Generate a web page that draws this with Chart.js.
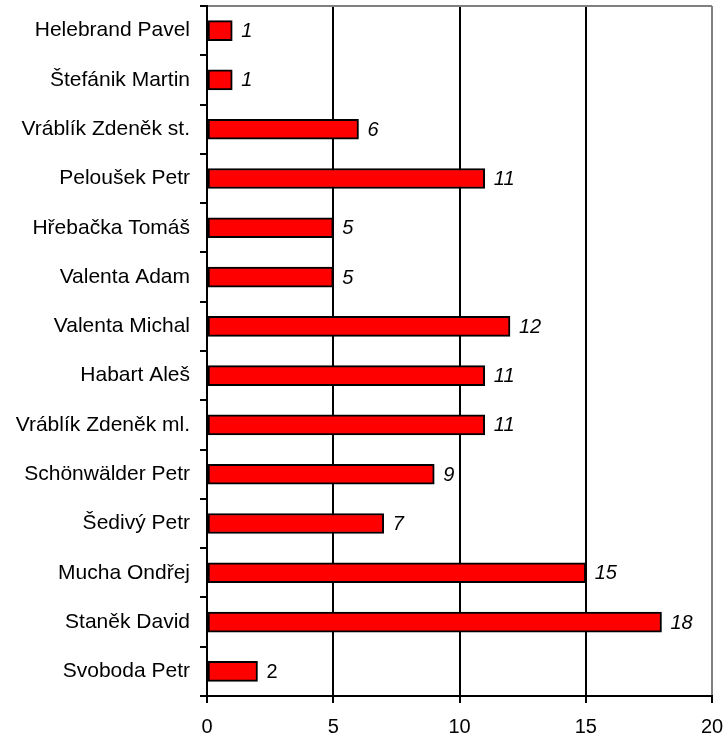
<!DOCTYPE html>
<html>
<head>
<meta charset="utf-8">
<script src="https://cdn.jsdelivr.net/npm/chart.js@4"></script>
<style>
  html, body { margin: 0; padding: 0; background: #ffffff; }
  #wrap { width: 727px; height: 738px; position: relative; }
</style>
</head>
<body>
<div id="wrap"><canvas id="c"></canvas></div>
<script>
const categories = [
  "Helebrand Pavel",
  "Štefánik Martin",
  "Vráblík Zdeněk st.",
  "Peloušek Petr",
  "Hřebačka Tomáš",
  "Valenta Adam",
  "Valenta Michal",
  "Habart Aleš",
  "Vráblík Zdeněk ml.",
  "Schönwälder Petr",
  "Šedivý Petr",
  "Mucha Ondřej",
  "Staněk David",
  "Svoboda Petr"
];
const values = [1, 1, 6, 11, 5, 5, 12, 11, 11, 9, 7, 15, 18, 2];
const xTicks = [0, 5, 10, 15, 20];

const FONT = "'Liberation Sans', Arial, Helvetica, sans-serif";

const valueLabels = {
  id: 'valueLabels',
  afterDatasetsDraw(chart) {
    const ctx = chart.ctx;
    const meta = chart.getDatasetMeta(0);
    ctx.save();
    ctx.fillStyle = '#000000';
    ctx.textBaseline = 'middle';
    ctx.textAlign = 'left';
    meta.data.forEach((bar, i) => {
      const italic = i !== meta.data.length - 1;
      ctx.font = (italic ? 'italic ' : '') + '20px ' + FONT;
      ctx.fillText(String(values[i]), bar.x + 9, bar.y + 1);
    });
    ctx.restore();
  }
};

const plotFrame = {
  id: 'plotFrame',
  afterDraw(chart) {
    const a = chart.chartArea;
    const ctx = chart.ctx;
    ctx.save();
    ctx.strokeStyle = '#808080';
    ctx.lineWidth = 2;
    ctx.beginPath();
    ctx.moveTo(a.left + 1, a.top);
    ctx.lineTo(a.right, a.top);
    ctx.stroke();
    ctx.strokeStyle = '#000000';
    ctx.beginPath();
    ctx.moveTo(a.left - 7, a.top);
    ctx.lineTo(a.left + 1, a.top);
    ctx.moveTo(a.left - 7, a.bottom);
    ctx.lineTo(a.left + 1, a.bottom);
    ctx.stroke();
    ctx.restore();
  }
};

new Chart(document.getElementById('c'), {
  type: 'bar',
  data: {
    labels: categories,
    datasets: [{
      data: values,
      backgroundColor: '#ff0000',
      borderColor: '#000000',
      borderWidth: 2,
      borderSkipped: false,
      barThickness: 20
    }]
  },
  options: {
    indexAxis: 'y',
    responsive: true,
    maintainAspectRatio: false,
    animation: false,
    devicePixelRatio: 1,
    layout: { padding: { top: 6, right: 15, left: 0, bottom: 0 } },
    plugins: {
      legend: { display: false },
      tooltip: { enabled: false },
      title: { display: false }
    },
    scales: {
      x: {
        type: 'linear',
        min: 0,
        max: 20,
        afterBuildTicks(scale) { scale.ticks = xTicks.map(v => ({ value: v })); },
        afterFit(scale) {
          scale.height = 42;
          scale.paddingLeft = 0; scale.paddingRight = 0;
          scale.paddingTop = 0; scale.paddingBottom = 0;
        },
        grid: {
          color: (c) => (c.tick && c.tick.value === 20) ? '#808080' : '#000000',
          lineWidth: 2,
          tickLength: 7,
          drawTicks: true,
          tickColor: '#000000'
        },
        border: { display: true, color: '#000000', width: 2 },
        ticks: {
          color: '#000000',
          padding: 12,
          font: { family: FONT, size: 20 },
          maxRotation: 0
        }
      },
      y: {
        type: 'category',
        afterFit(scale) {
          scale.width = 207;
          scale.paddingLeft = 0; scale.paddingRight = 0;
          scale.paddingTop = 0; scale.paddingBottom = 0;
        },
        grid: {
          offset: true,
          drawOnChartArea: false,
          drawTicks: true,
          tickLength: 7,
          color: '#000000',
          lineWidth: 2
        },
        border: { display: true, color: '#000000', width: 2 },
        ticks: {
          color: '#000000',
          padding: 10,
          font: { family: FONT, size: 21 },
          autoSkip: false
        }
      }
    }
  },
  plugins: [plotFrame, valueLabels]
});
</script>
</body>
</html>
